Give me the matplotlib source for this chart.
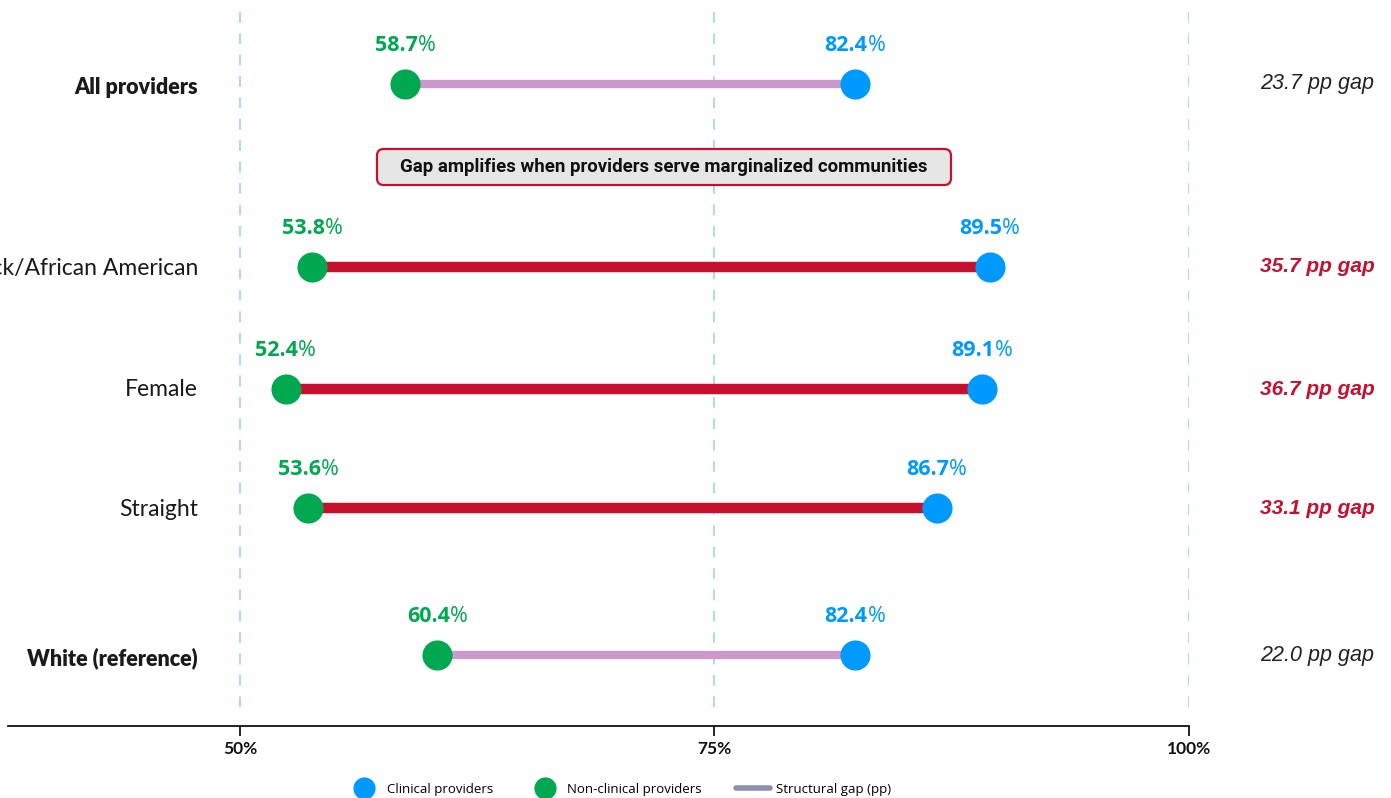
import matplotlib
matplotlib.use("Agg")
import matplotlib.pyplot as plt
from matplotlib.lines import Line2D
from matplotlib.patches import FancyBboxPatch
from matplotlib.offsetbox import TextArea, HPacker, AnnotationBbox

# ---- data ----
categories = ["All providers", "Black/African American", "Female", "Straight", "White (reference)"]
non_clinical = [58.7, 53.8, 52.4, 53.6, 60.4]
clinical = [82.4, 89.5, 89.1, 86.7, 82.4]
highlight = [False, True, True, True, False]
bold_label = [True, False, False, False, True]
x_ticks = [50, 75, 100]
x_tick_labels = ["50%", "75%", "100%"]
callout = "Gap amplifies when providers serve marginalized communities"

# ---- layout (row positions, top to bottom) ----
row_pos = [0.84, 2.67, 3.89, 5.08, 6.55]

GREEN = "#00a84f"
BLUE = "#0099ff"
RED = "#c8102e"
PINK = "#cc99cc"
GRID = "#8fd3f5"
DARK = "#1a1a1a"

plt.rcParams["font.family"] = ["Lato", "DejaVu Sans"]

fig = plt.figure(figsize=(13.91, 7.98), dpi=100)
ax = fig.add_axes([8 / 1391, 1 - 726 / 798, (1189 - 8) / 1391, (726 - 12) / 798])
ax.set_xlim(37.78, 100)
ax.set_ylim(7.26, 0.12)

for t in x_ticks:
    ax.plot([t, t], [0.12, 7.14], color=GRID, lw=1.1, linestyle=(0, (7, 7)), zorder=1)

for i, cat in enumerate(categories):
    y = row_pos[i]
    nc, cl = non_clinical[i], clinical[i]
    if highlight[i]:
        ax.plot([nc, cl], [y, y], color=RED, lw=7.5, solid_capstyle="butt", zorder=2)
    else:
        ax.plot([nc, cl], [y, y], color=PINK, lw=6, solid_capstyle="butt", zorder=2)
    ax.scatter([nc], [y], s=470, color=GREEN, zorder=3, linewidths=0)
    ax.scatter([cl], [y], s=470, color=BLUE, zorder=3, linewidths=0)

    # value labels: bold number + regular percent sign
    for val, col in ((nc, GREEN), (cl, BLUE)):
        num = TextArea(f"{val:.1f}", textprops=dict(color=col, fontsize=15.5, fontweight="bold",
                                                   family=["Open Sans", "DejaVu Sans"]))
        pct = TextArea("%", textprops=dict(color=col, fontsize=15.5, fontweight="normal",
                                           family=["Open Sans", "DejaVu Sans"]))
        pack = HPacker(children=[num, pct], align="baseline", pad=0, sep=0)
        ab = AnnotationBbox(pack, (val, y), xycoords="data", xybox=(0, 27.5),
                            boxcoords="offset points", box_alignment=(0.5, 0.5),
                            frameon=False, zorder=4)
        ax.add_artist(ab)

    # category label
    if bold_label[i]:
        ax.text(47.79, y + 0.03, cat, ha="right", va="center", clip_on=False,
                fontsize=15.5, color=DARK, fontweight="heavy")
    else:
        ax.text(47.79, y + 0.01, cat, ha="right", va="center", clip_on=False,
                fontsize=16.5, color=DARK, fontweight="normal")

    # gap label
    gap = cl - nc
    fig_y = 1 - (12 + (y - 0.12) * 100) / 798
    ax.annotate(f"{gap:.1f} pp gap", xy=(1260 / 1391, fig_y), xycoords="figure fraction",
                ha="left", va="center", fontsize=15.5 if not highlight[i] else 15, style="italic",
                family=["Liberation Sans", "DejaVu Sans"],
                color=RED if highlight[i] else "#222222",
                fontweight="bold" if highlight[i] else "normal", annotation_clip=False)

# callout box
box_x0, box_x1 = 57.22, 87.46
box_y0, box_y1 = 1.49, 1.85
ax.add_patch(FancyBboxPatch((box_x0, box_y0), box_x1 - box_x0, box_y1 - box_y0,
                            boxstyle="round,pad=0,rounding_size=0.35", mutation_aspect=0.19,
                            facecolor="#e6e6e6", edgecolor=RED, linewidth=1.6, zorder=5))
ax.text((box_x0 + box_x1) / 2, (box_y0 + box_y1) / 2, callout, ha="center", va="center",
        fontsize=13.4, fontweight="bold", family=["Roboto", "DejaVu Sans"],
        color="#111111", zorder=6)

# axes styling
for side in ("top", "right", "left"):
    ax.spines[side].set_visible(False)
ax.spines["bottom"].set_color("#111111")
ax.spines["bottom"].set_linewidth(1.3)
ax.set_yticks([])
ax.set_xticks(x_ticks)
ax.set_xticklabels(x_tick_labels, fontsize=12.5, fontweight="bold", color="#111111")
ax.tick_params(axis="x", direction="out", length=7, width=1.3, pad=4, color="#111111")

# legend
handles = [
    Line2D([], [], marker="o", linestyle="none", markersize=16, color=BLUE, markeredgewidth=0),
    Line2D([], [], marker="o", linestyle="none", markersize=16, color=GREEN, markeredgewidth=0),
    Line2D([], [], color="#8f8fb0", lw=4, solid_capstyle="round"),
]
labels = ["Clinical providers", "Non-clinical providers", "Structural gap (pp)"]
fig.legend(handles, labels, loc="center", bbox_to_anchor=(619 / 1391, 1 - 789 / 798),
           ncol=3, frameon=False, handlelength=2.6, handletextpad=0.4,
           columnspacing=2.6, prop={"family": ["Open Sans", "DejaVu Sans"], "size": 9.5})

fig.savefig("out.png", dpi=100)
